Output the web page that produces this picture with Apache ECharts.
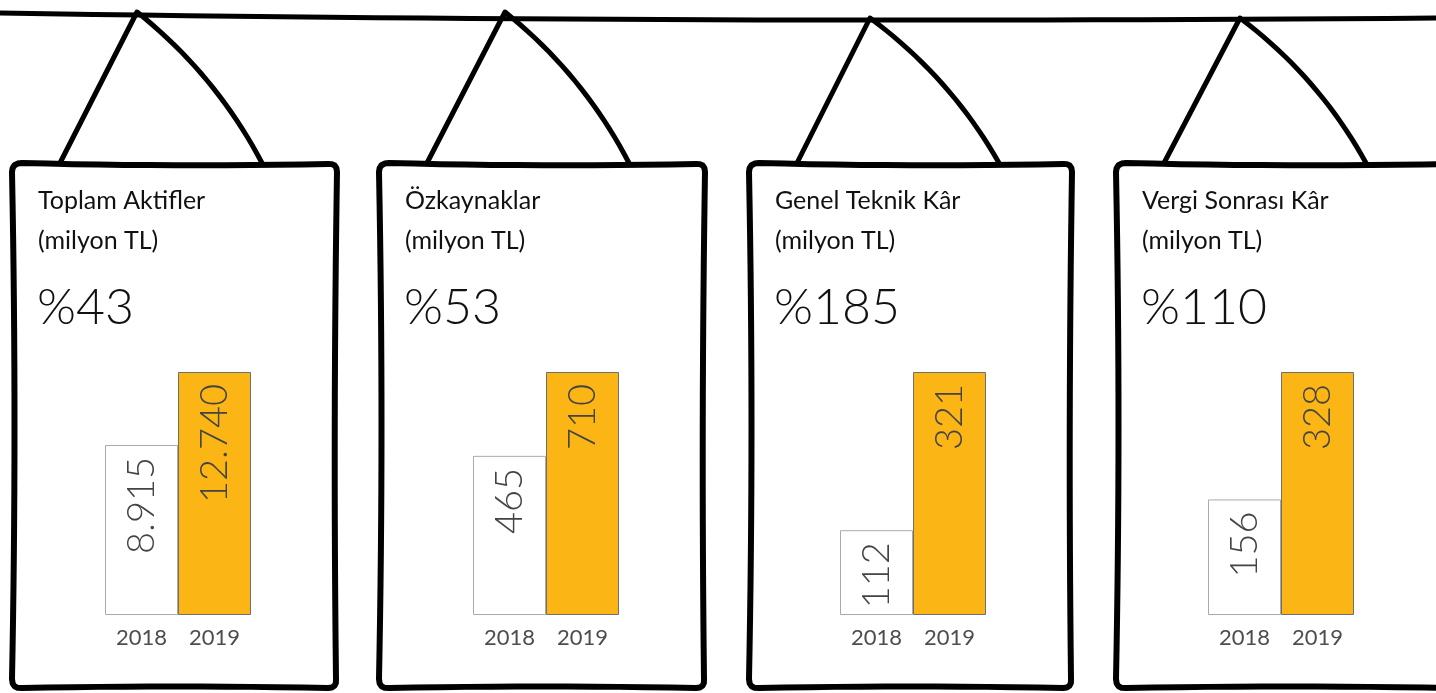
<!DOCTYPE html>
<html><head><meta charset="utf-8">
<script src="https://cdn.jsdelivr.net/npm/echarts@6/dist/echarts.min.js"></script>
<style>html,body{margin:0;padding:0;background:#fff}#c{width:1436px;height:693px}</style>
</head><body><div id="c"></div>
<script>
const categories = ['2018', '2019'];
const panelTitles = ['Toplam Aktifler', 'Özkaynaklar', 'Genel Teknik Kâr', 'Vergi Sonrası Kâr'];
const unitLabel = '(milyon TL)';
const growthLabels = ['%43', '%53', '%185', '%110'];
const values2018 = [8915, 465, 112, 156];
const values2019 = [12740, 710, 321, 328];

const FONT = 'Lato, "Open Sans", "Noto Sans", sans-serif';
const frames = [[13,163,337,688],[380,163,705,688],[750,163,1072,688],[1117,163,1460,688]];
const apexes = [[137,12],[505,12],[870,18],[1240,18]];
const gridLefts = [105, 473, 840, 1208];

function fmt(v){ return String(v).replace(/\B(?=(\d{3})+(?!\d))/g, '.'); }

function quadPts(a, c, b, n){
  const pts = [];
  for (let i = 0; i <= n; i++){
    const t = i / n, u = 1 - t;
    pts.push([u*u*a[0] + 2*u*t*c[0] + t*t*b[0], u*u*a[1] + 2*u*t*c[1] + t*t*b[1]]);
  }
  return pts;
}
function framePoints(l, t, r, b){
  const R = 9; let pts = [];
  pts = pts.concat(quadPts([l+R, t], [(l+r)/2, t+4], [r-R, t+1], 12));
  pts = pts.concat(quadPts([r-R, t+1], [r, t], [r, t+R], 4));
  pts = pts.concat(quadPts([r, t+R], [r-4, (t+b)/2], [r-1, b-R], 16));
  pts = pts.concat(quadPts([r-1, b-R], [r, b], [r-R, b], 4));
  pts = pts.concat(quadPts([r-R, b], [(l+r)/2, b-3], [l+R, b], 12));
  pts = pts.concat(quadPts([l+R, b], [l-1, b+1], [l-1, b-R], 4));
  pts = pts.concat(quadPts([l-1, b-R], [l+4, (t+b)/2], [l-1, t+R], 16));
  pts = pts.concat(quadPts([l-1, t+R], [l-1, t], [l+R, t], 4));
  return pts;
}

const graphic = [];
graphic.push({type:'polyline', shape:{points: quadPts([0,13],[700,24],[1436,18],30)}, style:{stroke:'#000', lineWidth:5, fill:null}, z:10});
frames.forEach((f, i) => {
  const [l, t, r, b] = f;
  const ap = apexes[i];
  const lf = [l + 47, t], rf = [l + 249, t];
  const mx = (ap[0] + rf[0]) / 2, my = (ap[1] + rf[1]) / 2;
  const ctrl = [mx + 16, my - 13];
  graphic.push({type:'polyline', shape:{points: [lf, ap].concat(quadPts(ap, ctrl, rf, 20))}, style:{stroke:'#000', lineWidth:5, fill:null, lineJoin:'round', lineCap:'round'}, z:10});
  graphic.push({type:'polygon', shape:{points: framePoints(l, t, r, b)}, style:{stroke:'#000', lineWidth:6, fill:'#fff', lineJoin:'round'}, z:5});
  graphic.push({type:'text', x: l + 25, y: 181, style:{text: panelTitles[i] + '\n' + unitLabel, font: '25px ' + FONT, fill:'#111', lineHeight: 40}, z:20});
  graphic.push({type:'text', x: l + 24, y: 308, style:{text: growthLabels[i], font: '300 50px ' + FONT, fill:'#111', textVerticalAlign:'middle'}, z:20});
});

const grid = [], xAxis = [], yAxis = [], series = [];
gridLefts.forEach((gl, i) => {
  grid.push({left: gl, top: 372, width: 146, height: 243, containLabel: false, z: 30});
  xAxis.push({type:'category', gridIndex:i, data: categories, axisLine:{show:false}, axisTick:{show:false},
    axisLabel:{color:'#4d4d4d', fontSize:22, fontFamily: FONT, margin: 12}, z:30});
  yAxis.push({type:'value', gridIndex:i, min:0, max: values2019[i], show:false, splitLine:{show:false}});
  series.push({type:'bar', xAxisIndex:i, yAxisIndex:i, barWidth:'100%', z:30, animation:false,
    data: [
      {value: values2018[i], itemStyle:{color:'#fff', borderColor:'#aaa', borderWidth:1}},
      {value: values2019[i], itemStyle:{color:'#FBB515', borderColor:'#6f6f6f', borderWidth:1}}
    ],
    label:{show:true, position:'insideTop', distance: 12, rotate: 90, align:'right', verticalAlign:'middle',
      fontSize: 38, fontFamily: FONT, fontWeight: 300, color:'#444', formatter: p => fmt(p.value)}
  });
});

const chart = echarts.init(document.getElementById('c'), null, {renderer:'canvas'});
chart.setOption({animation:false, backgroundColor:'#fff', graphic, grid, xAxis, yAxis, series});
</script></body></html>
